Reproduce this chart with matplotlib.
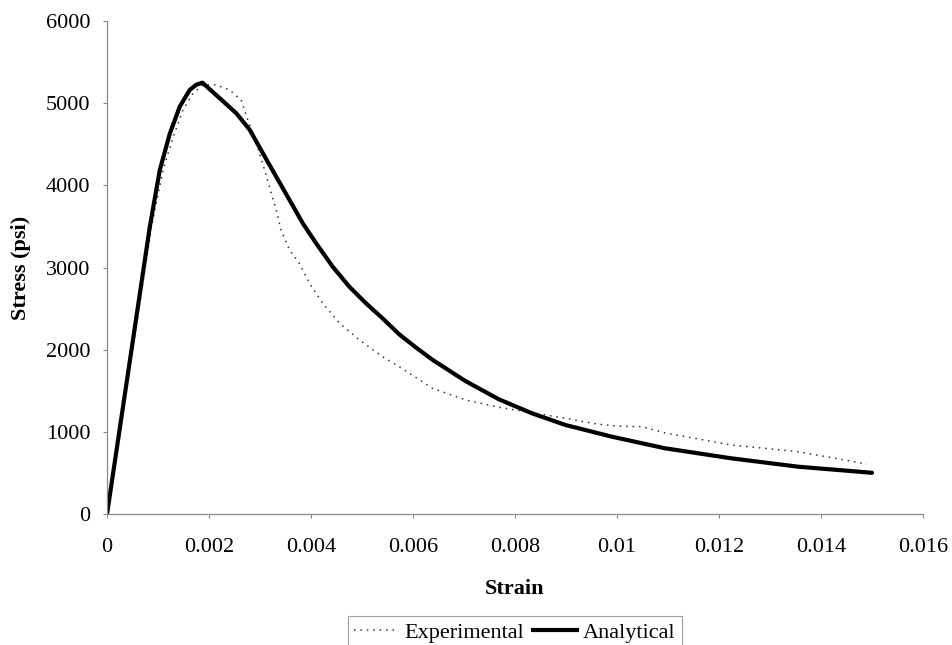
import matplotlib
matplotlib.use("Agg")
import matplotlib.pyplot as plt
from matplotlib.lines import Line2D

plt.rcParams['font.family'] = ['Liberation Serif', 'DejaVu Serif']

# Measured stress-strain response of the specimen
exp_strain = [0.0, 0.0003, 0.0006, 0.000873, 0.0011, 0.0013, 0.00149, 0.00169,
              0.00188, 0.00214, 0.0024, 0.00263, 0.00276, 0.00293, 0.00309, 0.00322,
              0.00332, 0.00341, 0.00358, 0.00377, 0.00397, 0.00423, 0.00456, 0.00495,
              0.0054, 0.00573, 0.00638, 0.00703, 0.00768, 0.00833, 0.00899, 0.00964,
              0.0100, 0.0105, 0.01094, 0.01224, 0.01355, 0.0149]
exp_stress = [0, 1200, 2400, 3500, 4189, 4594, 4918, 5122,
              5223, 5223, 5162, 5040, 4797, 4513, 4189, 3905,
              3702, 3459, 3215, 3054, 2810, 2567, 2324, 2120,
              1917, 1796, 1533, 1391, 1302, 1236, 1168, 1095,
              1074, 1065, 990, 843, 762, 612]

# Analytical model prediction
ana_strain = [0.0, 0.0003, 0.0006, 0.00084, 0.001036, 0.001232, 0.001427, 0.001623,
              0.00175, 0.00187, 0.00221, 0.002535, 0.0028, 0.003056, 0.003317, 0.003578,
              0.003838, 0.0041, 0.004425, 0.00475, 0.005077, 0.005402, 0.005728, 0.006055,
              0.00638, 0.00703, 0.00768, 0.00833, 0.00899, 0.0099, 0.01094, 0.01224,
              0.01355, 0.015]
ana_stress = [0, 1250, 2500, 3500, 4189, 4631, 4959, 5162,
              5225, 5250, 5061, 4878, 4675, 4392, 4107, 3824,
              3540, 3297, 3012, 2769, 2567, 2384, 2190, 2030,
              1880, 1620, 1400, 1229, 1086, 944, 803, 681,
              579, 505]

x_ticks = [0, 0.002, 0.004, 0.006, 0.008, 0.01, 0.012, 0.014, 0.016]
x_tick_labels = ['0', '0.002', '0.004', '0.006', '0.008', '0.01', '0.012', '0.014', '0.016']
y_ticks = [0, 1000, 2000, 3000, 4000, 5000, 6000]

fig = plt.figure(figsize=(9.52, 6.45), dpi=100)
ax = fig.add_axes([107 / 952, 1 - 514.3 / 645, (923 - 107) / 952, (514.3 - 21) / 645])

ax.plot(exp_strain, exp_stress, color='#333333', lw=1.1, linestyle=(0, (1, 3.2)),
        label='Experimental')
ax.plot(ana_strain, ana_stress, color='black', lw=3.0, solid_capstyle='round',
        solid_joinstyle='round', label='Analytical')

ax.set_xlim(0, 0.016)
ax.set_ylim(0, 6000)
ax.set_xticks(x_ticks)
ax.set_xticklabels(x_tick_labels)
ax.set_yticks(y_ticks)

for side in ('top', 'right'):
    ax.spines[side].set_visible(False)
for side in ('left', 'bottom'):
    ax.spines[side].set_color('#8a8a8a')
    ax.spines[side].set_linewidth(0.9)

ax.tick_params(axis='both', direction='out', length=3, width=0.8, color='#8a8a8a',
               labelsize=16, labelcolor='black')
ax.tick_params(axis='x', pad=14)
ax.tick_params(axis='y', pad=9)

ax.set_xlabel('Strain', fontsize=16, fontweight='bold', labelpad=16)
ax.set_ylabel('Stress (psi)', fontsize=16, fontweight='bold', labelpad=11)

handles = [Line2D([], [], color='#333333', lw=1.1, linestyle=(0, (1, 3.2))),
           Line2D([], [], color='black', lw=3.0)]
leg = fig.legend(handles, ['Experimental', 'Analytical'], loc='upper center',
                 bbox_to_anchor=(515 / 952, 1 - 616 / 645), ncol=2, fontsize=16,
                 frameon=True, fancybox=False, handlelength=2.0, handletextpad=0.25,
                 columnspacing=0.4, borderpad=0.3, borderaxespad=0)
leg.get_frame().set_edgecolor('#8a8a8a')
leg.get_frame().set_linewidth(0.8)

fig.savefig('out.png', dpi=100)
